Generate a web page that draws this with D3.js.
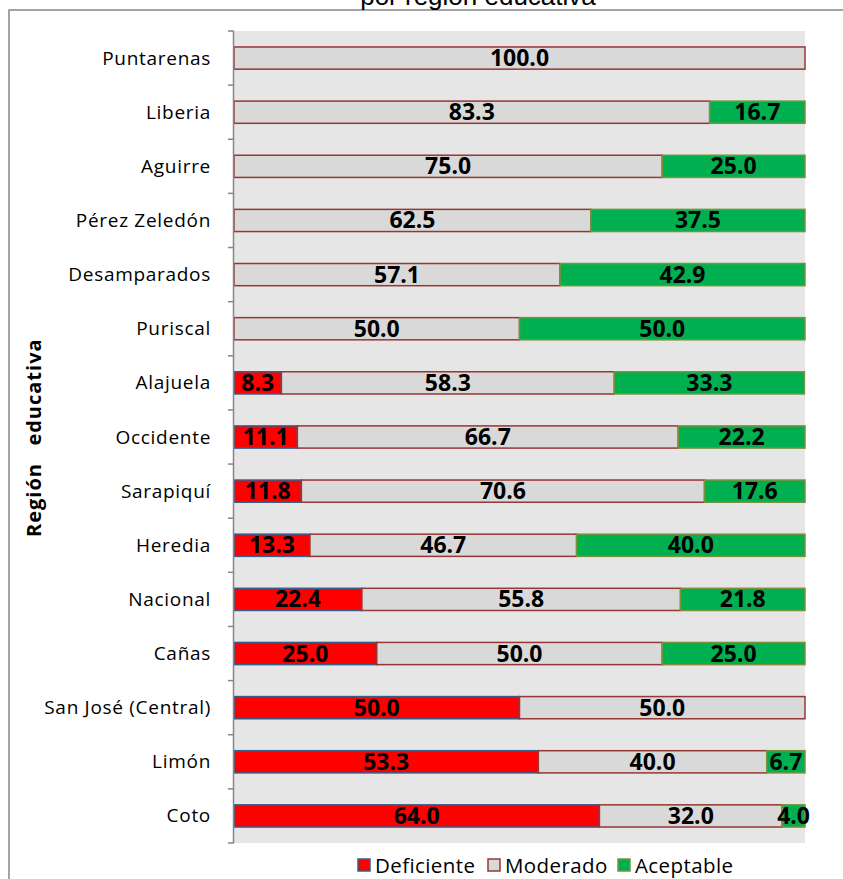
<!DOCTYPE html>
<html>
<head>
<meta charset="utf-8">
<script src="https://cdn.jsdelivr.net/npm/d3@7"></script>
<style>
  body { margin: 0; background: #fff; }
  svg { display: block; }
</style>
</head>
<body>
<svg id="chart" width="843" height="879"></svg>
<script>
// Region names, top to bottom
const regions = ['Puntarenas', 'Liberia', 'Aguirre', 'Pérez Zeledón', 'Desamparados', 'Puriscal',
  'Alajuela', 'Occidente', 'Sarapiquí', 'Heredia', 'Nacional', 'Cañas', 'San José (Central)', 'Limón', 'Coto'];

// Percentages per series
const deficiente = [0, 0, 0, 0, 0, 0, 8.3, 11.1, 11.8, 13.3, 22.4, 25.0, 50.0, 53.3, 64.0];
const moderado   = [100.0, 83.3, 75.0, 62.5, 57.1, 50.0, 58.3, 66.7, 70.6, 46.7, 55.8, 50.0, 50.0, 40.0, 32.0];
const aceptable  = [0, 16.7, 25.0, 37.5, 42.9, 50.0, 33.3, 22.2, 17.6, 40.0, 21.8, 25.0, 0, 6.7, 4.0];

const seriesNames = ['Deficiente', 'Moderado', 'Aceptable'];
const fills = ['#ff0000', '#d9d9d9', '#00b050'];
const strokes = ['#385d8a', '#953735', '#77933c'];

const svg = d3.select('#chart');
const W = 843, H = 879;

const plotLeft = 234, plotRight = 805, plotTop = 31, plotBottom = 843;

const rows = regions.map((r, i) => ({ region: r, Deficiente: deficiente[i], Moderado: moderado[i], Aceptable: aceptable[i] }));
const stacked = d3.stack().keys(seriesNames)(rows);

const x = d3.scaleLinear().domain([0, 100]).range([plotLeft, plotRight]);
const y = d3.scaleBand().domain(regions).range([plotTop, plotBottom]).paddingInner(0.59).paddingOuter(0.295);

const font = '"Open Sans", sans-serif';

// Outer chart border (extends off the picture on the right/bottom)
svg.append('rect')
  .attr('x', 9).attr('y', 10)
  .attr('width', W + 20).attr('height', H + 20)
  .attr('fill', '#fff')
  .attr('stroke', '#868686')
  .attr('stroke-width', 1.5);

// Title, mostly cut off at top
svg.append('text')
  .attr('x', 478).attr('y', 5)
  .attr('text-anchor', 'middle')
  .attr('font-family', 'Liberation Sans, Arial, sans-serif')
  .attr('font-size', 26)
  .attr('fill', '#000')
  .text('por región educativa');

// Plot area
svg.append('rect')
  .attr('x', plotLeft).attr('y', plotTop)
  .attr('width', plotRight - plotLeft).attr('height', plotBottom - plotTop)
  .attr('fill', '#e6e6e6');

// Bars
stacked.forEach((s, si) => {
  const g = svg.append('g');
  s.forEach((d, i) => {
    const v = d[1] - d[0];
    if (v <= 0) return;
    g.append('rect')
      .attr('x', x(d[0]))
      .attr('y', y(regions[i]))
      .attr('width', x(d[1]) - x(d[0]))
      .attr('height', y.bandwidth())
      .attr('fill', fills[si])
      .attr('stroke', strokes[si])
      .attr('stroke-width', 1.5);
  });
});

// Value labels
stacked.forEach((s, si) => {
  s.forEach((d, i) => {
    const v = d[1] - d[0];
    if (v <= 0) return;
    svg.append('text')
      .attr('x', (x(d[0]) + x(d[1])) / 2)
      .attr('y', y(regions[i]) + y.bandwidth() / 2 + 8)
      .attr('text-anchor', 'middle')
      .attr('font-family', font)
      .attr('font-weight', 'bold')
      .attr('font-size', 23)
      .attr('fill', '#000')
      .text(v.toFixed(1));
  });
});

// Category axis with ticks at band boundaries
const axisColor = '#868686';
svg.append('line')
  .attr('x1', plotLeft - 0.5).attr('x2', plotLeft - 0.5)
  .attr('y1', plotTop).attr('y2', plotBottom)
  .attr('stroke', axisColor).attr('stroke-width', 1.5);
const step = (plotBottom - plotTop) / regions.length;
d3.range(regions.length + 1).forEach(k => {
  const yy = plotTop + k * step;
  svg.append('line')
    .attr('x1', plotLeft - 6).attr('x2', plotLeft)
    .attr('y1', yy).attr('y2', yy)
    .attr('stroke', axisColor).attr('stroke-width', 1.5);
});

regions.forEach(r => {
  svg.append('text')
    .attr('x', 211)
    .attr('y', y(r) + y.bandwidth() / 2 + 6.5)
    .attr('text-anchor', 'end')
    .attr('font-family', font)
    .attr('font-size', 19)
    .attr('letter-spacing', 0.7)
    .attr('fill', '#000')
    .text(r);
});

// Axis title (two words, wide gap between them)
[['Región', 500], ['educativa', 392]].forEach(([t, cy]) => {
  svg.append('text')
    .attr('transform', `translate(41, ${cy}) rotate(-90)`)
    .attr('text-anchor', 'middle')
    .attr('font-family', font)
    .attr('font-weight', 'bold')
    .attr('font-size', 20)
    .attr('letter-spacing', 1)
    .attr('fill', '#000')
    .text(t);
});

// Legend
const legendX = [358, 488, 618];
seriesNames.forEach((n, i) => {
  svg.append('rect')
    .attr('x', legendX[i]).attr('y', 859)
    .attr('width', 12).attr('height', 12)
    .attr('fill', fills[i])
    .attr('stroke', strokes[i])
    .attr('stroke-width', 1.5);
  svg.append('text')
    .attr('x', legendX[i] + 17).attr('y', 873)
    .attr('font-family', font)
    .attr('font-size', 20.5)
    .attr('letter-spacing', 0.4)
    .attr('fill', '#000')
    .text(n);
});
</script>
</body>
</html>
